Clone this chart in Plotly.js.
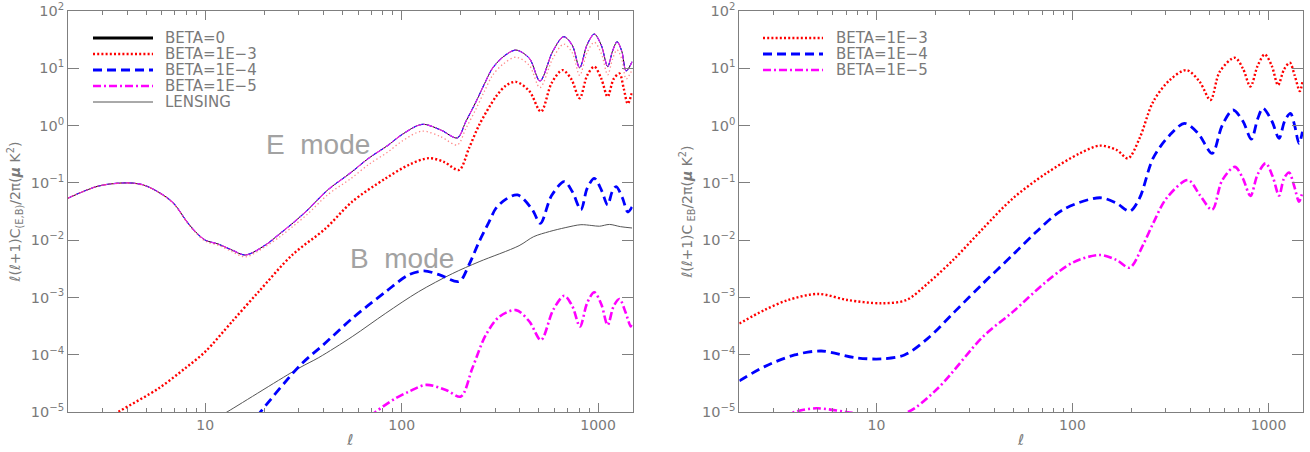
<!DOCTYPE html>
<html>
<head>
<meta charset="utf-8">
<script src="https://cdn.plot.ly/plotly-3.0.1.min.js"></script>
<style>html,body{margin:0;padding:0;background:#fff;}#chart{width:1310px;height:452px;}</style>
</head>
<body>
<div id="chart"></div>
<script>
// ---------------- DATA ----------------
// Left panel: E-mode spectra
const ellE = [2, 2.86, 4, 4.84, 5.9, 6.9, 8.06, 8.9, 10, 11.7, 13.7, 16, 20.2, 24, 28, 33, 42, 55, 68, 85, 100, 127, 158, 192, 212, 239, 265, 290, 330, 382, 447, 506, 587, 668, 740, 806, 880, 957, 1040, 1119, 1185, 1250, 1320, 1390, 1490];
const E_beta0 = [0.054, 0.088, 0.100, 0.092, 0.066, 0.044, 0.021, 0.0141, 0.0100, 0.0085, 0.0067, 0.0055, 0.0082, 0.013, 0.02, 0.033, 0.075, 0.15, 0.27, 0.45, 0.69, 1.05, 0.84, 0.61, 1.17, 2.6, 5.5, 10, 16, 20.8, 14.9, 6.0, 19.5, 35.6, 25, 10.2, 26, 39.6, 25, 10.7, 20, 29.1, 20, 9.0, 13];
const E_beta1e3 = [0.054, 0.088, 0.099, 0.091, 0.065, 0.043, 0.0205, 0.0137, 0.0096, 0.0081, 0.0063, 0.0051, 0.0077, 0.0115, 0.0175, 0.028, 0.062, 0.118, 0.21, 0.345, 0.53, 0.80, 0.64, 0.46, 0.88, 1.95, 4.1, 7.5, 12, 15.6, 11.2, 4.6, 14.6, 26.5, 18.5, 7.5, 19, 28.5, 18, 7.7, 14.5, 21, 14.5, 6.5, 9.4];
// E-mode for BETA=1E-4 and 1E-5 coincide with BETA=0 at this scale
const E_beta1e4 = E_beta0;
const E_beta1e5 = E_beta0;

// Left panel: B-mode spectra
const ellB3 = [2, 3.6, 5.8, 7.9, 10, 13.7, 18.7, 27.7, 41, 56, 83, 110, 138, 165, 196, 220, 248, 302, 340, 382, 447, 512, 580, 659, 730, 806, 880, 957, 1040, 1119, 1200, 1285, 1350, 1417, 1490];
const B_beta1e3 = [3e-6, 1.0e-5, 2.6e-5, 5.8e-5, 1.13e-4, 3.8e-4, 1.26e-3, 5.5e-3, 0.016, 0.047, 0.12, 0.21, 0.27, 0.23, 0.168, 0.4, 1.02, 3.2, 5.0, 5.8, 4.0, 1.75, 5.5, 9.3, 6.5, 3.0, 7.5, 10.7, 6.5, 3.2, 6.5, 8.1, 4.5, 2.4, 3.9];
const ellB4 = [15, 19.1, 30.5, 40, 56, 83, 109, 130, 155, 196, 220, 248, 279, 302, 340, 389, 463, 508, 580, 673, 740, 818, 880, 957, 1040, 1119, 1180, 1236, 1330, 1417, 1490];
const B_beta1e4 = [3.4e-6, 1e-5, 6.6e-5, 1.5e-4, 4.3e-4, 1.26e-3, 2.5e-3, 2.9e-3, 2.5e-3, 1.9e-3, 3.7e-3, 9.4e-3, 0.021, 0.036, 0.052, 0.0615, 0.034, 0.0196, 0.06, 0.105, 0.07, 0.034, 0.08, 0.12, 0.075, 0.041, 0.07, 0.086, 0.055, 0.031, 0.038];
const ellB5 = [60, 73.6, 93, 109, 133, 168, 200, 229, 268, 314, 382, 447, 512, 590, 673, 740, 809, 880, 957, 1040, 1119, 1200, 1285, 1380, 1467, 1490];
const B_beta1e5 = [5.5e-6, 1e-5, 1.73e-5, 2.27e-5, 2.97e-5, 2.43e-5, 1.86e-5, 5.8e-5, 2.2e-4, 4.6e-4, 6.0e-4, 3.8e-4, 1.8e-4, 6e-4, 1.07e-3, 7e-4, 3.1e-4, 8e-4, 1.23e-3, 7.5e-4, 3.3e-4, 7e-4, 9.4e-4, 5.5e-4, 3.1e-4, 3.8e-4];
const ellLens = [10, 12.9, 29.9, 37.8, 56, 83, 122, 181, 248, 396, 470, 565, 680, 818, 930, 1016, 1143, 1300, 1490];
const B_lensing = [6e-6, 1e-5, 5.8e-5, 8.9e-5, 2.07e-4, 5.3e-4, 1.26e-3, 2.6e-3, 4.2e-3, 8e-3, 0.0115, 0.0141, 0.0165, 0.0186, 0.018, 0.0175, 0.0188, 0.0172, 0.0163];
// BETA=0 has no B-mode (identically zero)
const ellB0 = [2, 1500];
const B_beta0 = [0, 0];

// Right panel: EB cross spectra
const ellEB3 = [2, 2.69, 3.54, 5.04, 7.16, 10.6, 14.2, 18.3, 25.1, 35, 49.8, 73.6, 109, 138, 168, 192, 220, 258, 314, 382, 446, 506, 564, 673, 740, 809, 880, 957, 1040, 1119, 1200, 1285, 1360, 1445, 1490];
const EB_beta1e3 = [3.5e-4, 6.05e-4, 9.0e-4, 1.15e-3, 9.0e-4, 7.9e-4, 9.0e-4, 1.76e-3, 4.8e-3, 0.016, 0.054, 0.147, 0.327, 0.446, 0.375, 0.268, 0.6, 2.6, 6.25, 9.3, 5.8, 2.8, 8.7, 15.3, 10, 4.8, 11, 17.5, 11, 5.1, 9.5, 12.5, 7.5, 4.0, 5.8];
const ellEB4 = [2, 2.69, 3.83, 5.24, 7.74, 10.6, 13.9, 18.3, 25.1, 35, 49.8, 65.5, 89.5, 138, 168, 196, 220, 258, 314, 374, 438, 516, 580, 659, 740, 818, 880, 937, 1040, 1132, 1210, 1295, 1360, 1432, 1490];
const EB_beta1e4 = [3.5e-5, 6.2e-5, 9.9e-5, 1.16e-4, 8.9e-5, 8.45e-5, 9.9e-5, 1.93e-4, 5.65e-4, 1.76e-3, 5.6e-3, 0.014, 0.034, 0.055, 0.044, 0.032, 0.054, 0.27, 0.685, 1.09, 0.73, 0.327, 1.0, 1.87, 1.2, 0.58, 1.3, 2.0, 1.2, 0.6, 1.2, 1.63, 1.0, 0.49, 0.78];
const ellEB5 = [2, 2.69, 3.83, 4.94, 7.03, 10.6, 14.5, 20.6, 35, 49.8, 73.6, 101, 138, 168, 196, 229, 258, 302, 389, 446, 516, 580, 673, 740, 809, 880, 968, 1050, 1132, 1200, 1274, 1350, 1432, 1490];
const EB_beta1e5 = [3.5e-6, 6.2e-6, 1.0e-5, 1.16e-5, 1.0e-5, 8.4e-6, 1.0e-5, 2.6e-5, 2.07e-4, 5.65e-4, 1.89e-3, 4.1e-3, 5.5e-3, 4.5e-3, 3.3e-3, 8.2e-3, 0.0196, 0.054, 0.112, 0.0615, 0.034, 0.11, 0.19, 0.12, 0.059, 0.14, 0.219, 0.13, 0.06, 0.12, 0.152, 0.09, 0.047, 0.07];

// Tick labels
const xTickVals = [10, 100, 1000];
const xTickText = ['10', '100', '1000'];
const xMinorVals = [2,3,4,5,6,7,8,9,20,30,40,50,60,70,80,90,200,300,400,500,600,700,800,900];
const yTickVals = [1e-5, 1e-4, 1e-3, 1e-2, 1e-1, 1e0, 1e1, 1e2];
const yTickText = ['10<sup>−5</sup>','10<sup>−4</sup>','10<sup>−3</sup>','10<sup>−2</sup>','10<sup>−1</sup>','10<sup>0</sup>','10<sup>1</sup>','10<sup>2</sup>'];
const legendLeft = ['BETA=0', 'BETA=1E−3', 'BETA=1E−4', 'BETA=1E−5', 'LENSING'];
const legendRight = ['BETA=1E−3', 'BETA=1E−4', 'BETA=1E−5'];

// ---------------- STYLES ----------------
const FONT = 'DejaVu Sans, Liberation Sans, sans-serif';
const TXT = '#7a7a7a';
const AX = '#7f7f7f';
const sty = {
  b0:   {color:'#000000', width:3, dash:'solid'},
  b3:   {color:'#ff0000', width:2.4, dash:'2px,2.2px'},
  b4:   {color:'#0000ff', width:2.8, dash:'9px,5px'},
  b5:   {color:'#ff00ff', width:2.6, dash:'8px,3px,2px,3px'},
  lens: {color:'#555555', width:1, dash:'solid'},
  e0:   {color:'#000000', width:1, dash:'solid'},
  e3:   {color:'rgba(255,70,70,0.65)', width:1.3, dash:'1.3px,2.6px'},
  e4:   {color:'#2222ff', width:1.1, dash:'5px,3px'},
  e5:   {color:'#ee22ee', width:1.1, dash:'6px,2px,2px,2px'}
};
function tr(x, y, s, xa, ya, name) {
  return {x:x, y:y, type:'scatter', mode:'lines', name:name, showlegend:false,
          xaxis:xa, yaxis:ya, line:Object.assign({shape:'spline', smoothing:0.9}, s), hoverinfo:'skip'};
}
const traces = [
  tr(ellE, E_beta0, sty.e0, 'x', 'y', 'E BETA=0'),
  tr(ellE, E_beta1e4, sty.e4, 'x', 'y', 'E BETA=1E-4'),
  tr(ellE, E_beta1e5, sty.e5, 'x', 'y', 'E BETA=1E-5'),
  tr(ellE, E_beta1e3, sty.e3, 'x', 'y', 'E BETA=1E-3'),
  tr(ellLens, B_lensing, sty.lens, 'x', 'y', 'LENSING'),
  tr(ellB0, B_beta0, sty.b0, 'x', 'y', 'B BETA=0'),
  tr(ellB3, B_beta1e3, sty.b3, 'x', 'y', 'B BETA=1E-3'),
  tr(ellB4, B_beta1e4, sty.b4, 'x', 'y', 'B BETA=1E-4'),
  tr(ellB5, B_beta1e5, sty.b5, 'x', 'y', 'B BETA=1E-5'),
  tr(ellEB3, EB_beta1e3, sty.b3, 'x2', 'y2', 'EB BETA=1E-3'),
  tr(ellEB4, EB_beta1e4, sty.b4, 'x2', 'y2', 'EB BETA=1E-4'),
  tr(ellEB5, EB_beta1e5, sty.b5, 'x2', 'y2', 'EB BETA=1E-5')
];

// ---------------- LAYOUT ----------------
const TOP = 11, BOTTOM = 40, PLOT_H = 452 - TOP - BOTTOM;
function xaxis(domain) {
  return {type:'log', domain:domain, range:[Math.log10(2), Math.log10(1500)],
    showline:true, linecolor:AX, linewidth:1, mirror:'ticks', ticks:'inside', ticklen:9, tickwidth:1, tickcolor:AX,
    tickmode:'array', tickvals:xTickVals, ticktext:xTickText,
    minor:{ticks:'inside', ticklen:4, tickwidth:1, tickcolor:AX, tickmode:'array', tickvals:xMinorVals, showgrid:false},
    showgrid:false, zeroline:false, tickfont:{family:FONT, size:14, color:TXT},
    title:{text:'<i>ℓ</i>', font:{family:FONT, size:15, color:TXT}, standoff:2}};
}
function yaxis(anchor, titleText) {
  return {type:'log', anchor:anchor, range:[-5, 2],
    showline:true, linecolor:AX, linewidth:1, mirror:'ticks', ticks:'inside', ticklen:11, tickwidth:1, tickcolor:AX,
    tickmode:'array', tickvals:yTickVals, ticktext:yTickText, ticklabeloverflow:'allow',
    showgrid:false, zeroline:false, tickfont:{family:FONT, size:14.5, color:TXT},
    title:{text:titleText, font:{family:FONT, size:14, color:TXT}, standoff:6}};
}
const leftX = [0, 0.4572], rightX = [0.5436, 1];
const shapes = [], annotations = [];
function rowY(py) { return (TOP + PLOT_H - py) / PLOT_H; }
function px(xp) { return (xp - 68) / 1235; }
const leftStyles = [sty.b0, sty.b3, sty.b4, sty.b5, sty.lens];
const rowsPix = [38, 54, 70, 86, 102];
legendLeft.forEach((t, i) => {
  const s = leftStyles[i];
  shapes.push({type:'line', xref:'paper', yref:'paper', x0:px(93), x1:px(153), y0:rowY(rowsPix[i]), y1:rowY(rowsPix[i]),
    line:{color:s.color, width:(i===4?1:s.width), dash:s.dash}});
  annotations.push({xref:'paper', yref:'paper', x:px(163), y:rowY(rowsPix[i]), xanchor:'left', yanchor:'middle', showarrow:false,
    text:t, font:{family:FONT, size:15, color:TXT}});
});
const rightStyles = [sty.b3, sty.b4, sty.b5];
legendRight.forEach((t, i) => {
  const s = rightStyles[i];
  shapes.push({type:'line', xref:'paper', yref:'paper', x0:px(763), x1:px(823), y0:rowY(rowsPix[i]), y1:rowY(rowsPix[i]),
    line:{color:s.color, width:s.width, dash:s.dash}});
  annotations.push({xref:'paper', yref:'paper', x:px(834), y:rowY(rowsPix[i]), xanchor:'left', yanchor:'middle', showarrow:false,
    text:t, font:{family:FONT, size:15, color:TXT}});
});
annotations.push({xref:'paper', yref:'paper', x:px(318), y:rowY(144), xanchor:'center', yanchor:'middle', showarrow:false,
  text:'E\u00a0\u00a0mode', font:{family:'Liberation Sans, Arial, sans-serif', size:28, color:'#a2a2a2'}});
annotations.push({xref:'paper', yref:'paper', x:px(402), y:rowY(258), xanchor:'center', yanchor:'middle', showarrow:false,
  text:'B\u00a0\u00a0mode', font:{family:'Liberation Sans, Arial, sans-serif', size:28, color:'#a2a2a2'}});

const layout = {
  width:1310, height:452,
  margin:{l:68, r:7, t:TOP, b:BOTTOM},
  paper_bgcolor:'#ffffff', plot_bgcolor:'#ffffff',
  showlegend:false,
  xaxis:xaxis(leftX),
  yaxis:yaxis('x', '<i>ℓ</i>(<i>ℓ</i>+1)C<sub>(E,B)</sub>/2π(<b><i>μ</i></b> K<sup>2</sup>)'),
  xaxis2:Object.assign(xaxis(rightX), {anchor:'y2'}),
  yaxis2:yaxis('x2', '<i>ℓ</i>(<i>ℓ</i>+1)C<sub> EB</sub>/2π(<b><i>μ</i></b> K<sup>2</sup>)'),
  shapes:shapes, annotations:annotations
};
Plotly.newPlot('chart', traces, layout, {staticPlot:true, displayModeBar:false});
</script>
</body>
</html>
